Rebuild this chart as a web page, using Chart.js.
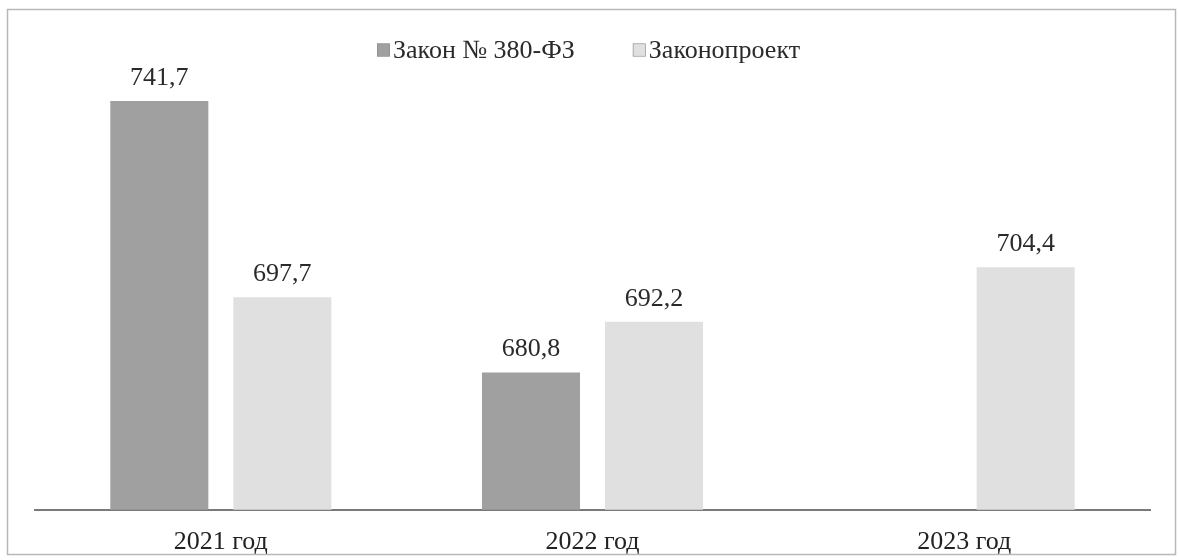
<!DOCTYPE html>
<html lang="ru">
<head>
<meta charset="utf-8">
<title>Закон № 380-ФЗ и законопроект</title>
<script src="https://cdn.jsdelivr.net/npm/chart.js@4/dist/chart.umd.min.js"></script>
<style>
  html, body { margin: 0; padding: 0; background: #ffffff; }
  #wrap { position: relative; width: 1179px; height: 560px; }
  canvas { display: block; }
</style>
</head>
<body>
<div id="wrap"><canvas id="chart" width="1179" height="560"></canvas></div>
<script>
// Categories and series
const years = ['2021 год', '2022 год', '2023 год'];
const lawValues = [741.7, 680.8, null];
const billValues = [697.7, 692.2, 704.4];
const seriesNames = ['Закон № 380-ФЗ', 'Законопроект'];
const seriesColors = ['#a0a0a0', '#e0e0e0'];
const axisMin = 650;
const axisMax = 750;

const FONT = '"Liberation Serif", "Times New Roman", serif';

function fmt(v) {
  return v.toFixed(1).replace('.', ',');
}

// Thin frame around the whole figure
const framePlugin = {
  id: 'frame',
  beforeDraw(chart) {
    const ctx = chart.ctx;
    ctx.save();
    ctx.fillStyle = '#ffffff';
    ctx.fillRect(0, 0, chart.width, chart.height);
    ctx.strokeStyle = '#b8b8b8';
    ctx.lineWidth = 1.5;
    ctx.strokeRect(7.5, 9.5, 1168, 545);
    ctx.restore();
  }
};

// Legend row above the plot: small square swatch followed by the series name
const legendPlugin = {
  id: 'swatchLegend',
  afterDraw(chart) {
    const ctx = chart.ctx;
    ctx.save();
    ctx.font = '26px ' + FONT;
    ctx.textBaseline = 'middle';
    ctx.textAlign = 'left';
    const box = 13, gapText = 3, gapItem = 58;
    const items = chart.data.datasets.map(ds => ({ text: ds.label, color: ds.backgroundColor }));
    let x = 377;
    const cy = 50;
    items.forEach(it => {
      ctx.fillStyle = it.color;
      ctx.fillRect(x, cy - box / 2, box, box);
      ctx.strokeStyle = '#8a8a8a';
      ctx.lineWidth = 0.6;
      ctx.strokeRect(x + 0.3, cy - box / 2 + 0.3, box - 0.6, box - 0.6);
      x += box + gapText;
      ctx.fillStyle = '#2a2a2a';
      ctx.fillText(it.text, x, cy + 1);
      x += ctx.measureText(it.text).width + gapItem;
    });
    ctx.restore();
  }
};

// Value labels above each bar
const valueLabelPlugin = {
  id: 'valueLabels',
  afterDatasetsDraw(chart) {
    const ctx = chart.ctx;
    ctx.save();
    ctx.font = '26px ' + FONT;
    ctx.fillStyle = '#2a2a2a';
    ctx.textAlign = 'center';
    ctx.textBaseline = 'alphabetic';
    chart.data.datasets.forEach((ds, di) => {
      const meta = chart.getDatasetMeta(di);
      meta.data.forEach((bar, i) => {
        const v = ds.data[i];
        if (v === null || v === undefined) return;
        ctx.fillText(fmt(v), bar.x, bar.y - 16);
      });
    });
    ctx.restore();
  }
};

new Chart(document.getElementById('chart'), {
  type: 'bar',
  data: {
    labels: years,
    datasets: [
      { label: seriesNames[0], data: lawValues, backgroundColor: seriesColors[0] },
      { label: seriesNames[1], data: billValues, backgroundColor: seriesColors[1] }
    ]
  },
  options: {
    responsive: false,
    animation: false,
    devicePixelRatio: 1,
    categoryPercentage: 0.662,
    barPercentage: 0.797,
    layout: { padding: { top: 64, left: 35, right: 29, bottom: -15 } },
    plugins: {
      legend: { display: false },
      tooltip: { enabled: false },
      title: { display: false }
    },
    scales: {
      x: {
        grid: { display: false, drawTicks: false },
        border: { display: true, color: '#7a7a7a', width: 2 },
        ticks: {
          padding: 17,
          color: '#222222',
          font: { family: FONT, size: 26 }
        }
      },
      y: {
        display: false,
        min: axisMin,
        max: axisMax
      }
    }
  },
  plugins: [framePlugin, legendPlugin, valueLabelPlugin]
});
</script>
</body>
</html>
